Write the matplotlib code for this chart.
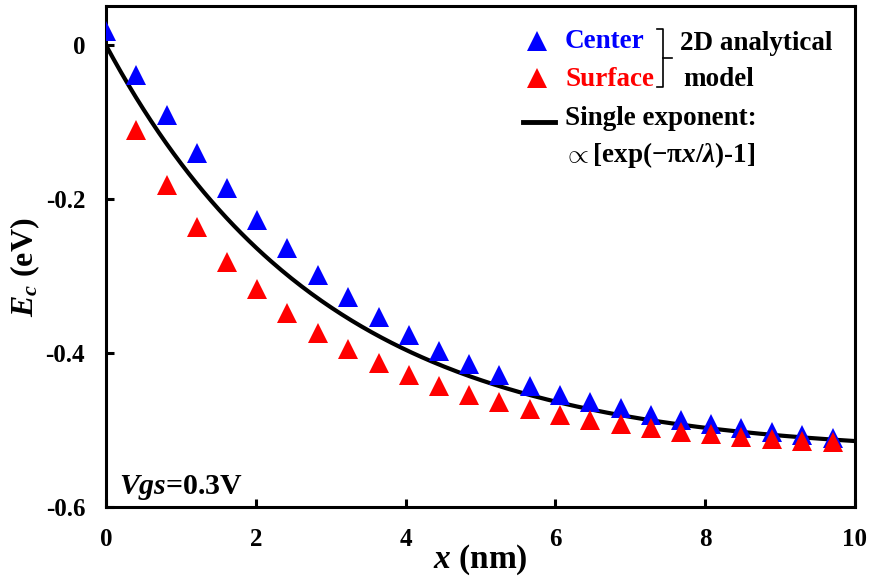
import numpy as np
import matplotlib.pyplot as plt
from matplotlib.lines import Line2D

# Bandkante entlang x: Mitte und Oberfläche (2D-Modell)
x_center = [0.00, 0.40, 0.81, 1.21, 1.62, 2.02, 2.42, 2.83, 3.23, 3.64, 4.04, 4.44, 4.85,
            5.25, 5.66, 6.06, 6.46, 6.87, 7.27, 7.68, 8.08, 8.48, 8.89, 9.29, 9.70]
ec_center = [0.018, -0.039, -0.091, -0.140, -0.186, -0.227, -0.264, -0.298, -0.327, -0.353,
             -0.377, -0.397, -0.414, -0.429, -0.443, -0.455, -0.464, -0.472, -0.480, -0.487,
             -0.492, -0.497, -0.502, -0.506, -0.510]
x_surface = x_center[1:]
ec_surface = [-0.110, -0.181, -0.236, -0.281, -0.317, -0.348, -0.374, -0.395, -0.413, -0.429,
              -0.443, -0.455, -0.464, -0.473, -0.481, -0.487, -0.492, -0.497, -0.502, -0.505,
              -0.509, -0.511, -0.514, -0.516]

# Einzel-Exponent: A*[exp(-pi*x/lambda)-1]
amp = 0.532
lam = 9.23

x_ticks = [0, 2, 4, 6, 8, 10]
y_ticks = [-0.6, -0.4, -0.2, 0.0]
y_tick_labels = ['-0.6', '-0.4', '-0.2', '0']

plt.rcParams.update({
    'font.family': 'Liberation Serif',
    'font.weight': 'bold',
    'axes.labelweight': 'bold',
    'mathtext.fontset': 'custom',
    'mathtext.rm': 'Liberation Serif:bold',
    'mathtext.it': 'Liberation Serif:italic:bold',
    'mathtext.bf': 'Liberation Serif:bold',
})

W, H = 871, 579
fig = plt.figure(figsize=(W / 100, H / 100), dpi=100)
ax = fig.add_axes([106 / W, 1 - 507 / H, (855 - 106) / W, (507 - 6) / H])

xs = np.linspace(0, 10, 300)
ax.plot(xs, amp * (np.exp(-np.pi * xs / lam) - 1), color='black', lw=3, zorder=2)
ax.plot(x_center, ec_center, '^', color='#0000FF', ms=15, mew=0, zorder=3)
ax.plot(x_surface, ec_surface, '^', color='#FF0000', ms=15, mew=0, zorder=4)

ax.set_xlim(0, 10)
ax.set_ylim(-0.6, 0.051)
ax.set_xticks(x_ticks)
ax.set_yticks(y_ticks)
ax.set_yticklabels(y_tick_labels)
for s in ax.spines.values():
    s.set_linewidth(2.2)
ax.tick_params(direction='in', length=5.5, width=2.2, labelsize=18, pad=15)

ax.set_xlabel('$x$ (nm)', fontsize=24, labelpad=-6)
ax.set_ylabel('$E_c$ (eV)', fontsize=23)
ax.yaxis.set_label_coords(-0.086, 0.478)

ax.text(0.018, 0.025, '$Vgs$=0.3V', transform=ax.transAxes, fontsize=21.5, va='baseline')

# Legende von Hand
def fx(px):
    return px / W

def fy(py):
    return 1 - py / H

fs = 19.5
fig.add_artist(Line2D([fx(537)], [fy(41)], marker='^', color='#0000FF', ms=15, mew=0))
fig.add_artist(Line2D([fx(537)], [fy(78)], marker='^', color='#FF0000', ms=15, mew=0))
fig.add_artist(Line2D([fx(523), fx(555)], [fy(122), fy(122)], color='black', lw=3.5))
fig.text(fx(565), fy(48.5), 'Center', color='#0000FF', fontsize=fs, va='baseline')
fig.text(fx(565), fy(86.5), 'Surface', color='#FF0000', fontsize=fs, va='baseline')
fig.text(fx(680), fy(49.5), '2D analytical', fontsize=fs, va='baseline')
fig.text(fx(683), fy(86.5), 'model', fontsize=fs, va='baseline')
fig.text(fx(565), fy(125), 'Single exponent:', fontsize=fs, va='baseline')
fig.text(fx(563), fy(161.5), r'$\propto\mathrm{[exp(-\pi}x/\lambda\mathrm{)}$-1]', fontsize=fs, va='baseline')

# Klammer
bx = [657, 663, 663, 657]
by = [29, 29, 87, 87]
fig.add_artist(Line2D([fx(v) for v in bx], [fy(v) for v in by], color='black', lw=1.2))
fig.add_artist(Line2D([fx(663), fx(672)], [fy(58), fy(58)], color='black', lw=1.2))

fig.savefig('out.png', dpi=100)
